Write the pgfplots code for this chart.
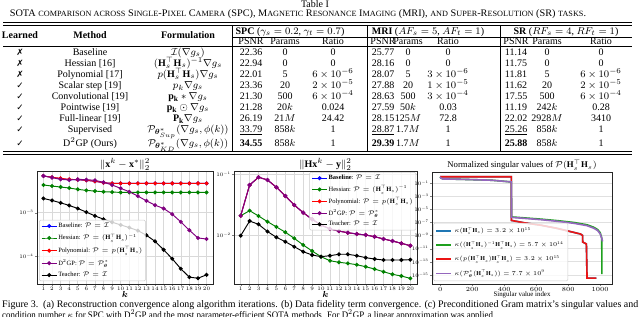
\RequirePackage{fix-cm}
\documentclass[border=0pt]{standalone}
\usepackage{amsmath,amssymb,bm}
\usepackage{graphicx}
\usepackage{fontspec}
\setmainfont{Liberation Serif}
\newfontfamily\dejavu{DejaVu Sans}
\usepackage{pgfplots}
\usepackage{pgfplotstable}
\pgfplotsset{compat=1.18}
\definecolor{mblue}{RGB}{0,0,255}
\definecolor{mgreen}{RGB}{0,128,0}
\definecolor{mred}{RGB}{255,0,0}
\definecolor{mpurple}{RGB}{128,0,128}
\definecolor{tblue}{RGB}{31,119,180}
\definecolor{tgreen}{RGB}{30,160,30}
\definecolor{tred}{RGB}{235,20,20}
\definecolor{tpurple}{RGB}{148,103,189}
\newcommand{\fsc}[1]{{\fontsize{6.4}{8}\selectfont\MakeUppercase{#1}}}
\newcommand{\cm}{{\dejavu\fontsize{7}{8}\selectfont ✓}}
\newcommand{\xm}{{\dejavu\fontsize{7}{8}\selectfont ✗}}
\newcommand{\HH}{\mathbf{H}_s^{\top}\mathbf{H}_s}
\newcommand{\nums}[9]{%
 \node[anchor=base] at (251,\ry){#1};\node[anchor=base] at (285,\ry){#2};\node[anchor=base] at (333,\ry){#3};%
 \node[anchor=base] at (383,\ry){#4};\node[anchor=base] at (408,\ry){#5};\node[anchor=base] at (448,\ry){#6};%
 \node[anchor=base] at (516,\ry){#7};\node[anchor=base] at (547,\ry){#8};\node[anchor=base] at (601,\ry){#9};}
\newcommand{\lab}[3]{\node[anchor=base] at (20,\ry){#1};\node[anchor=base] at (90,\ry){#2};\node[anchor=base] at (188,\ry){#3};}
% (c): log10 of normalized singular values
\pgfplotstableread{
idx ly
0 0
445 0
445 -6.68
529 -7.06
631 -7.42
734 -7.91
816 -8.40
877 -8.76
890 -8.98
891 -9.99
914 -10.28
918 -15.5
976 -15.5
}\redtab
\pgfplotstableread{
idx ly
0 0
4 -0.2
16 -0.34
119 -0.39
324 -0.54
445 -0.8
446 -6.15
529 -6.30
631 -6.49
734 -6.72
836 -7.00
918 -7.35
959 -7.72
984 -8.08
1000 -8.55
1008 -9.20
1010 -9.50
1011 -14.76
1015 -14.76
}\greentab
\pgfplotstableread{
idx ly
0 0
4 -0.2
16 -0.34
119 -0.39
324 -0.54
445 -0.8
446 -6.22
529 -6.37
631 -6.57
734 -6.82
836 -7.12
918 -7.48
959 -7.86
984 -8.22
1000 -8.72
1010 -9.40
1015 -9.89
}\purpletab
\begin{document}
\begin{tikzpicture}
\useasboundingbox (0,0) rectangle (512pt,-253.6pt);
\begin{scope}[x=0.8pt,y=-0.8pt, every node/.style={inner sep=0pt, font=\fontsize{8}{9.6}\selectfont}]
\node[anchor=base] at (315,8) {Table I};
\node[anchor=base] at (298,17) {\resizebox{461pt}{\height}{SOTA \fsc{comparison across} S\fsc{ingle}-P\fsc{ixel} C\fsc{amera} (SPC), M\fsc{agnetic} R\fsc{esonance} I\fsc{maging} (MRI), \fsc{and} S\fsc{uper}-R\fsc{esolution} (SR) \fsc{tasks}.}};
\draw[line width=0.4pt] (3,22.7) -- (632,22.7);
\draw[line width=0.4pt] (3,25) -- (632,25);
\draw[line width=0.4pt] (232,37.3) -- (632,37.3);
\draw[line width=0.4pt] (3,46.7) -- (632,46.7);
\draw[line width=0.4pt] (3,151.7) -- (632,151.7);
\draw[line width=0.4pt] (3,154) -- (632,154);
\foreach \xx in {232,367,500} \draw[line width=0.4pt] (\xx,25) -- (\xx,151.7);
\node[anchor=base] at (20,38.5) {\textbf{Learned}};
\node[anchor=base] at (90,38.5) {\textbf{Method}};
\node[anchor=base] at (188,38.5) {\textbf{Formulation}};
\node[anchor=base] at (290,34.5) {\textbf{SPC} ($\gamma_s=0.2$, $\gamma_t=0.7$)};
\node[anchor=base] at (428,34.5) {\textbf{MRI} ($AF_s=5$, $AF_t=1$)};
\node[anchor=base] at (566,34.5) {\textbf{SR} ($RF_s=4$, $RF_t=1$)};
\def\ry{44.5}\nums{PSNR}{Params}{Ratio}{PSNR}{Params}{Ratio}{PSNR}{Params}{Ratio}
\def\ry{55.3}\lab{\xm}{Baseline}{$\mathcal{I}(\nabla g_s)$}\nums{22.36}{0}{0}{25.77}{0}{0}{11.14}{0}{0}
\def\ry{66.3}\lab{\xm}{Hessian [16]}{$(\HH)^{-1}\nabla g_s$}\nums{22.94}{0}{0}{28.16}{0}{0}{11.75}{0}{0}
\def\ry{77.3}\lab{\xm}{Polynomial [17]}{$p(\HH)\nabla g_s$}\nums{22.01}{5}{$6\times10^{-6}$}{28.07}{5}{$3\times10^{-6}$}{11.81}{5}{$6\times10^{-6}$}
\def\ry{88.3}\lab{\cm}{Scalar step [19]}{$p_k\nabla g_s$}\nums{23.36}{20}{$2\times10^{-5}$}{27.88}{20}{$1\times10^{-5}$}{11.62}{20}{$2\times10^{-5}$}
\def\ry{99.5}\lab{\cm}{Convolutional [19]}{$\mathbf{p_k}*\nabla g_s$}\nums{21.30}{500}{$6\times10^{-4}$}{28.63}{500}{$3\times10^{-4}$}{17.55}{500}{$6\times10^{-4}$}
\def\ry{110.5}\lab{\cm}{Pointwise [19]}{$\mathbf{p_k}\odot\nabla g_s$}\nums{21.28}{20$k$}{0.024}{27.59}{50$k$}{0.03}{11.19}{242$k$}{0.28}
\def\ry{121.5}\lab{\cm}{Full-linear [19]}{$\mathbf{P_k}\nabla g_s$}\nums{26.19}{21$M$}{24.42}{28.15}{125$M$}{72.8}{22.02}{2928$M$}{3410}
\def\ry{132.3}\lab{\cm}{Supervised}{$\mathcal{P}_{\bm{\theta}^*_{Sup}}(\nabla g_s,\phi(k))$}\nums{\underline{33.79}}{858$k$}{1}{\underline{28.87}}{1.7$M$}{1}{\underline{25.26}}{858$k$}{1}
\def\ry{146.3}\lab{\cm}{D$^2$GP (Ours)}{$\mathcal{P}_{\bm{\theta}^*_{KD}}(\nabla g_s,\phi(k))$}\nums{\textbf{34.55}}{858$k$}{1}{\textbf{29.39}}{1.7$M$}{1}{\textbf{25.88}}{858$k$}{1}
% plot titles and labels
\node[anchor=base] at (125,167.5) {$\|\mathbf{x}^k-\mathbf{x}^*\|_2^2$};
\node[anchor=base] at (325.5,167.5) {$\|\mathbf{H}\mathbf{x}^k-\mathbf{y}\|_2^2$};
\node[anchor=base,font=\fontsize{7}{8}\selectfont] at (522,168) {Normalized singular values of $\mathcal{P}(\HH)$};
\node[anchor=base,font=\fontsize{7}{8}\selectfont] at (125,297.5) {$\bm{k}$};
\node[anchor=base,font=\fontsize{7}{8}\selectfont] at (325.5,297.5) {$\bm{k}$};
\node[anchor=base,font=\fontsize{5.5}{6}\selectfont] at (522,297) {Singular value index};
\node[anchor=base west] at (2,307) {\resizebox{508.8pt}{\height}{Figure 3.\ \ (a) Reconstruction convergence along algorithm iterations. (b) Data fidelity term convergence. (c) Preconditioned Gram matrix's singular values and}};
\node[anchor=base west] at (2,318.5) {\resizebox{394.4pt}{\height}{condition number $\kappa$ for SPC with D$^2$GP and the most parameter-efficient SOTA methods. For D$^2$GP, a linear approximation was applied.}};
\end{scope}
% ---------------- (a)
\begin{axis}[ymode=log, xmin=0.25, xmax=20.75, xtick={1,...,20},
  grid=major, major grid style={black!15,line width=0.45pt},
  tick pos=left, tick align=outside, major tick length=1.5pt, minor tick length=0.8pt,
  ticklabel style={font=\fontsize{4.2}{5}\selectfont, inner sep=1pt},
  axis line style={black!85,line width=0.5pt},
  every axis plot/.append style={line width=0.75pt, mark=*, mark size=1.2pt},
  legend cell align=left,
  legend style={font=\fontsize{5.2}{6}\selectfont, draw=black!20, fill=white, fill opacity=0.8, text opacity=1, draw opacity=1, rounded corners=1pt, inner xsep=1.5pt, inner ysep=1.2pt, row sep=2.2pt, nodes={inner sep=0.9pt}, at={(0.012,0.025)},anchor=south west},
 at={(29.6pt,-227.2pt)}, anchor=south west, scale only axis,
 width=140.8pt, height=90.4pt, ymin=2.24e-5, ymax=9.2e-3, ytick={1e-3,1e-4},
 legend image code/.code={\draw[mark repeat=2,mark phase=2,#1] plot coordinates {(0pt,0pt)(6pt,0pt)(12pt,0pt)};}]
\addplot[color=mblue] coordinates {(1,7.06e-3)(2,6.58e-3)(3,6.10e-3)(4,5.80e-3)(5,5.75e-3)(6,5.60e-3)(7,5.31e-3)(8,4.94e-3)(9,4.76e-3)(10,4.76e-3)(11,4.76e-3)(12,4.76e-3)(13,4.76e-3)(14,4.76e-3)(15,4.76e-3)(16,4.76e-3)(17,4.76e-3)(18,4.76e-3)(19,4.76e-3)(20,4.76e-3)};
\addlegendentry{Baseline: $\mathcal{P}=\mathcal{I}$}
\addplot[color=mgreen] coordinates {(1,4.37e-3)(2,4.13e-3)(3,3.92e-3)(4,3.72e-3)(5,3.46e-3)(6,3.28e-3)(7,3.16e-3)(8,3.05e-3)(9,3.00e-3)(10,2.94e-3)(11,2.94e-3)(12,2.94e-3)(13,2.94e-3)(14,2.94e-3)(15,2.94e-3)(16,2.94e-3)(17,2.94e-3)(18,2.94e-3)(19,2.94e-3)(20,2.94e-3)};
\addlegendentry{Hessian: $\mathcal{P}=(\HH)^{-1}$}
\addplot[color=mred] coordinates {(1,7.06e-3)(2,6.58e-3)(3,6.24e-3)(4,5.90e-3)(5,5.81e-3)(6,5.60e-3)(7,5.31e-3)(8,4.94e-3)(9,4.76e-3)(10,4.76e-3)(11,4.76e-3)(12,4.76e-3)(13,4.76e-3)(14,4.76e-3)(15,4.76e-3)(16,4.76e-3)(17,4.76e-3)(18,4.76e-3)(19,4.76e-3)(20,4.76e-3)};
\addlegendentry{Polynomial: $\mathcal{P}=p(\HH)$}
\addplot[color=mpurple] coordinates {(1,7.06e-3)(2,6.46e-3)(3,5.90e-3)(4,5.70e-3)(5,5.90e-3)(6,5.81e-3)(7,5.60e-3)(8,5.04e-3)(9,4.37e-3)(10,3.65e-3)(11,3.05e-3)(12,2.42e-3)(13,1.88e-3)(14,1.49e-3)(15,1.25e-3)(16,9.23e-4)(17,6.12e-4)(18,3.92e-4)(19,2.60e-4)(20,2.46e-4)};
\addlegendentry{D$^2$GP: $\mathcal{P}=\mathcal{P}_{\bm\theta}^*$}
\addplot[color=black] coordinates {(1,2.13e-3)(2,1.92e-3)(3,1.69e-3)(4,1.47e-3)(5,1.25e-3)(6,1.03e-3)(7,8.43e-4)(8,7.06e-4)(9,6.01e-4)(10,5.21e-4)(11,4.52e-4)(12,3.85e-4)(13,3.00e-4)(14,2.17e-4)(15,1.39e-4)(16,8.59e-5)(17,5.04e-5)(18,3.22e-5)(19,3.05e-5)(20,3.65e-5)};
\addlegendentry{Teacher: $\mathcal{P}=\mathcal{I}$}
\end{axis}
% ---------------- (b)
\begin{axis}[ymode=log, xmin=0.25, xmax=20.75, xtick={1,...,20},
  grid=major, major grid style={black!15,line width=0.45pt},
  tick pos=left, tick align=outside, major tick length=1.5pt, minor tick length=0.8pt,
  ticklabel style={font=\fontsize{4.2}{5}\selectfont, inner sep=1pt},
  axis line style={black!85,line width=0.5pt},
  every axis plot/.append style={line width=0.75pt, mark=*, mark size=1.2pt},
  legend cell align=left,
  legend style={font=\fontsize{5.2}{6}\selectfont, draw=black!20, fill=white, fill opacity=0.8, text opacity=1, draw opacity=1, rounded corners=1pt, inner xsep=1.5pt, inner ysep=1.2pt, row sep=1.6pt, nodes={inner sep=0.9pt}, at={(0.995,0.99)},anchor=north east},
 at={(187.2pt,-227.2pt)}, anchor=south west, scale only axis,
 width=146.4pt, height=90.4pt, ymin=1.55e-3, ymax=0.114, ytick={1e-1,1e-2},
 legend image code/.code={\draw[mark repeat=2,mark phase=2,#1] plot coordinates {(0pt,0pt)(6pt,0pt)(12pt,0pt)};}]
\addplot[color=mblue] coordinates {(1,2.08e-2)(2,6.70e-2)(3,8.99e-2)(4,8.11e-2)(5,6.14e-2)(6,4.41e-2)(7,3.13e-2)(8,2.34e-2)(9,1.82e-2)(10,1.46e-2)(11,1.26e-2)(12,1.16e-2)(13,1.09e-2)(14,1.04e-2)(15,1.00e-2)(16,9.37e-3)(17,8.59e-3)(18,7.96e-3)(19,7.29e-3)(20,6.65e-3)};
\addlegendentry{\textbf{Baseline}: $\mathcal{P}=\mathcal{I}$}
\addplot[color=mgreen] coordinates {(1,2.08e-2)(2,2.52e-2)(3,2.06e-2)(4,1.66e-2)(5,1.36e-2)(6,1.11e-2)(7,8.81e-3)(8,6.84e-3)(9,5.44e-3)(10,4.38e-3)(11,3.76e-3)(12,3.54e-3)(13,3.40e-3)(14,3.23e-3)(15,2.99e-3)(16,2.74e-3)(17,2.47e-3)(18,2.24e-3)(19,2.10e-3)(20,1.92e-3)};
\addlegendentry{Hessian: $\mathcal{P}=(\HH)^{-1}$}
\addplot[color=mred] coordinates {(1,2.08e-2)(2,6.70e-2)(3,8.99e-2)(4,8.11e-2)(5,6.14e-2)(6,4.41e-2)(7,3.13e-2)(8,2.34e-2)(9,1.82e-2)(10,1.46e-2)(11,1.26e-2)(12,1.16e-2)(13,1.09e-2)(14,1.04e-2)(15,1.00e-2)(16,9.37e-3)(17,8.59e-3)(18,7.96e-3)(19,7.29e-3)(20,6.65e-3)};
\addlegendentry{Polynomial: $\mathcal{P}=p(\HH)$}
\addplot[color=mpurple] coordinates {(1,2.08e-2)(2,6.70e-2)(3,8.99e-2)(4,8.11e-2)(5,6.14e-2)(6,4.41e-2)(7,3.13e-2)(8,2.34e-2)(9,1.82e-2)(10,1.46e-2)(11,1.26e-2)(12,1.16e-2)(13,1.09e-2)(14,1.04e-2)(15,1.00e-2)(16,9.37e-3)(17,8.59e-3)(18,7.96e-3)(19,7.29e-3)(20,6.65e-3)};
\addlegendentry{D$^2$GP: $\mathcal{P}=\mathcal{P}_{\bm\theta}^*$}
\addplot[color=black] coordinates {(1,9.73e-3)(2,1.70e-2)(3,1.50e-2)(4,1.14e-2)(5,9.16e-3)(6,7.74e-3)(7,6.41e-3)(8,5.30e-3)(9,4.67e-3)(10,4.38e-3)(11,4.55e-3)(12,4.80e-3)(13,4.80e-3)(14,4.55e-3)(15,4.22e-3)(16,4.01e-3)(17,3.86e-3)(18,3.86e-3)(19,3.86e-3)(20,3.91e-3)};
\addlegendentry{Teacher: $\mathcal{P}=\mathcal{I}$}
\end{axis}
% ---------------- (c)  (y values are log10 of the normalized singular values)
\begin{axis}[at={(345.6pt,-227.2pt)}, anchor=south west, scale only axis,
 width=144pt, height=89.6pt, xmin=-51, xmax=1074, ymin=-16.4, ymax=0.72,
 xtick={0,200,...,1000}, ytick={-1,-3,-5,-7,-9,-11,-13,-15},
 yticklabels={$10^{-1}$,$10^{-3}$,$10^{-5}$,$10^{-7}$,$10^{-9}$,$10^{-11}$,$10^{-13}$,$10^{-15}$},
 ymajorgrids, major grid style={black!12,line width=0.45pt},
 tick pos=left, tick align=outside, major tick length=1.5pt,
 xticklabel style={font=\fontsize{5}{6}\selectfont, inner sep=1.2pt, /pgf/number format/set thousands separator={}},
 yticklabel style={font=\fontsize{4.2}{5}\selectfont, inner sep=1pt},
 axis line style={black!85,line width=0.5pt},
 every axis plot/.append style={line width=1.3pt, no marks},
 legend cell align=left,
 legend style={at={(0.008,0.025)},anchor=south west, font=\fontsize{4.8}{5.5}\selectfont, draw=black!20, fill=white, fill opacity=0.8, text opacity=1, draw opacity=1, rounded corners=1pt, inner xsep=1.5pt, inner ysep=1.2pt, row sep=1.6pt},
 legend image code/.code={\draw[#1] (0pt,0pt) -- (12pt,0pt);}]
\addplot[color=tblue] table[x=idx,y=ly] {\redtab};
\addlegendentry{$\kappa(\HH)=3.2\times10^{15}$}
\addplot[color=tgreen] table[x=idx,y=ly] {\greentab};
\addlegendentry{$\kappa((\HH)^{-1}\HH)=5.7\times10^{14}$}
\addplot[color=tred] table[x=idx,y=ly] {\redtab};
\addlegendentry{$\kappa(p(\HH)\HH)=3.2\times10^{15}$}
\addplot[color=tpurple] table[x=idx,y=ly] {\purpletab};
\addlegendentry{$\kappa(\mathcal{P}_{\bm\theta}^*(\HH))=7.7\times10^{9}$}
\end{axis}
\end{tikzpicture}
\end{document}
